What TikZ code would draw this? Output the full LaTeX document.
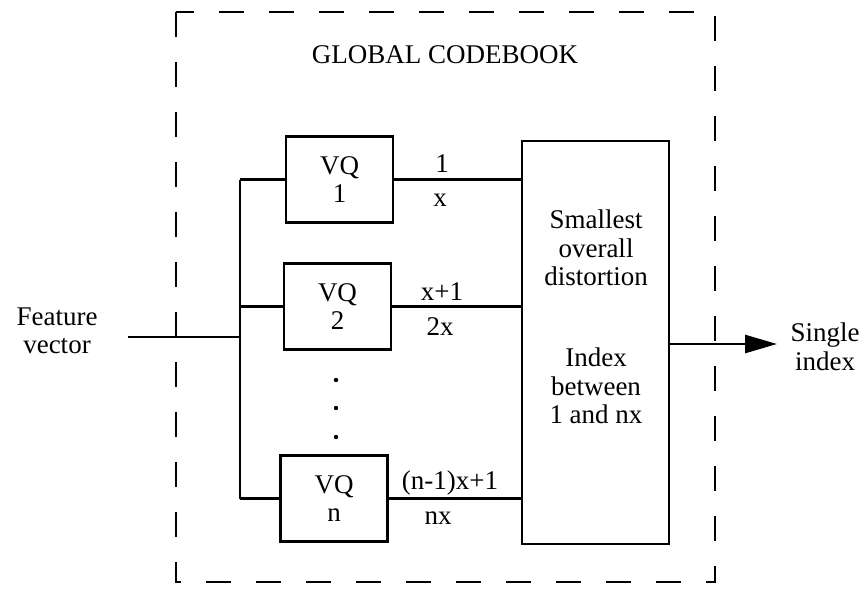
\documentclass[tikz,border=0pt]{standalone}
\usepackage{fontspec}
\setmainfont{Liberation Serif}
\usetikzlibrary{arrows.meta}
\begin{document}
\begin{tikzpicture}[x=1pt,y=-1pt,
  every node/.style={font=\fontsize{27}{28.5}\selectfont, inner sep=0pt, outer sep=0pt},
  lbl/.style={align=center},
  vqbox/.style={draw, line width=2.6pt, minimum width=107pt, minimum height=86pt, align=center},
  bigbox/.style={draw, line width=2.6pt, minimum width=147pt, minimum height=403pt},
  wire/.style={line width=2.6pt},
  frame/.style={line width=2.6pt, dash pattern=on 25pt off 25pt}
]
\useasboundingbox (0,0) rectangle (864,592);

% dashed global codebook frame
\draw[frame] (176,12) rectangle (715,582);
\node[lbl] (title) at (445,55) {GLOBAL CODEBOOK};

% VQ boxes
\node[vqbox] (v1) at (339.5,179.5) {VQ\\1};
\node[vqbox] (v2) at (337.5,306.5) {VQ\\2};
\node[vqbox] (vn) at (334,498.5) {VQ\\n};

% dots
\fill (336,380) circle (2.2pt);
\fill (336,408) circle (2.2pt);
\fill (336,437) circle (2.2pt);

% big box
\node[bigbox] (big) at (595.5,342.5) {};
\node[lbl] (t1) at (596,248) {Smallest\\overall\\distortion};
\node[lbl] (t2) at (596,386) {Index\\between\\1 and nx};

% input
\node[lbl] (fv) at (57,331) {Feature\\vector};
\coordinate (fin) at (128,337);
\coordinate (fj) at (240,337);
\coordinate (bt) at (240,179.5);
\coordinate (bb) at (240,498.5);
\draw[wire] (fin) -- (fj);
\draw[wire] (bt) -- (bb);
\draw[wire] (bt) -- (v1.west);
\draw[wire] (v2.west -| bt) -- (v2.west);
\draw[wire] (bb) -- (vn.west);

% outputs
\draw[wire] (v1.east) -- (v1.east -| big.west);
\draw[wire] (v2.east) -- (v2.east -| big.west);
\draw[wire] (vn.east) -- (vn.east -| big.west);

\node[lbl] (l1a) at (442,164) {1};
\node[lbl] (l1b) at (440,200) {x};
\node[lbl] (l2a) at (442,292) {x+1};
\node[lbl] (l2b) at (440,327) {2x};
\node[lbl] (lna) at (450,483) {(n-1)x+1};
\node[lbl] (lnb) at (438,518) {nx};

% output arrow
\node[lbl] (si) at (825,347) {Single\\index};
\coordinate (aout) at (777,344);
\draw[wire, -{Triangle[length=32pt,width=18pt]}] (big.east |- aout) -- (aout);
\end{tikzpicture}
\end{document}
